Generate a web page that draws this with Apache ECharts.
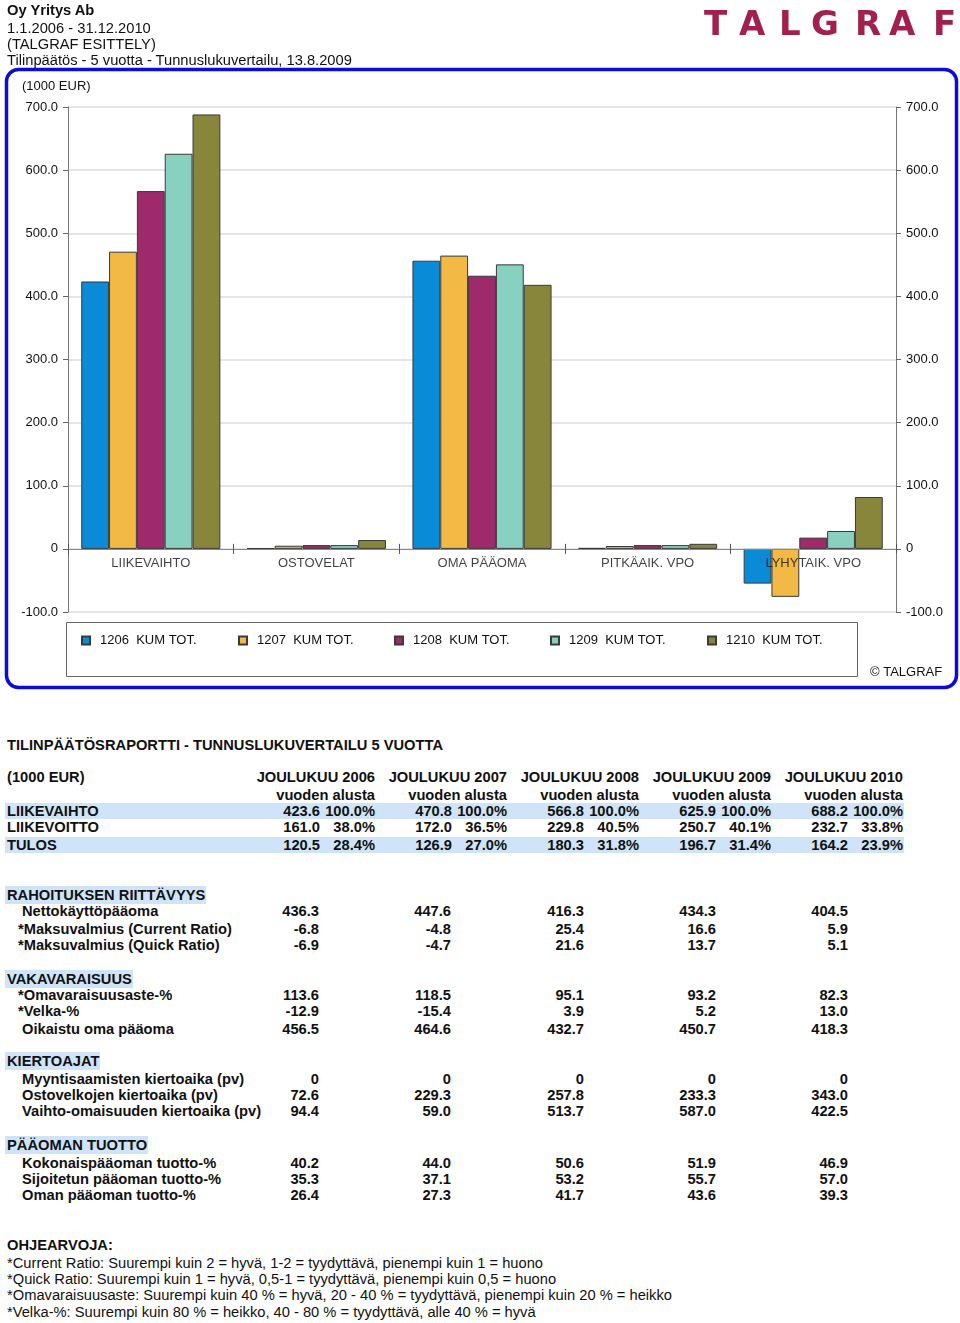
<!DOCTYPE html>
<html>
<head>
<meta charset="utf-8">
<script src="https://cdn.jsdelivr.net/npm/echarts@6/dist/echarts.min.js"></script>
<style>
  html, body { margin:0; padding:0; background:#fff; }
  body { width:960px; height:1323px; position:relative; font-family:'Liberation Sans', Arial, sans-serif; color:#111; }
  #chart { position:absolute; left:0; top:0; width:960px; height:700px; }
  .t { position:absolute; white-space:nowrap; line-height:18px; font-size:14.7px; }
  .b { font-weight:bold; }
  .hl { background:#cfe4f8; }
  .logo { position:absolute; top:3px; font-weight:bold; font-size:34px; color:#a3204e; font-family:'DejaVu Sans', 'Liberation Sans', Arial, sans-serif; }
</style>
</head>
<body>
<div id="chart"></div>
<div id="report"></div>
<script>
// ---------- DATA ----------
const headerLines = ['Oy Yritys Ab', '1.1.2006 - 31.12.2010', '(TALGRAF ESITTELY)', 'Tilinpäätös - 5 vuotta - Tunnuslukuvertailu, 13.8.2009'];
const categories = ['LIIKEVAIHTO', 'OSTOVELAT', 'OMA PÄÄOMA', 'PITKÄAIK. VPO', 'LYHYTAIK. VPO'];
const seriesNames = ['1206  KUM TOT.', '1207  KUM TOT.', '1208  KUM TOT.', '1209  KUM TOT.', '1210  KUM TOT.'];
const s1206 = [423.6, 1.0, 456.5, 1.5, -55.0];
const s1207 = [470.8, 5.0, 464.6, 4.5, -76.0];
const s1208 = [566.8, 6.0, 432.7, 6.0, 17.8];
const s1209 = [625.9, 6.0, 450.7, 6.0, 28.3];
const s1210 = [688.2, 14.0, 418.3, 8.0, 82.2];
const yTicks = [-100, 0, 100, 200, 300, 400, 500, 600, 700];

const years = ['JOULUKUU 2006', 'JOULUKUU 2007', 'JOULUKUU 2008', 'JOULUKUU 2009', 'JOULUKUU 2010'];
const liikevaihto = [423.6, 470.8, 566.8, 625.9, 688.2];
const liikevaihtoPct = [100.0, 100.0, 100.0, 100.0, 100.0];
const liikevoitto = [161.0, 172.0, 229.8, 250.7, 232.7];
const liikevoittoPct = [38.0, 36.5, 40.5, 40.1, 33.8];
const tulos = [120.5, 126.9, 180.3, 196.7, 164.2];
const tulosPct = [28.4, 27.0, 31.8, 31.4, 23.9];

const nettokayttopaaoma = [436.3, 447.6, 416.3, 434.3, 404.5];
const currentRatio = [-6.8, -4.8, 25.4, 16.6, 5.9];
const quickRatio = [-6.9, -4.7, 21.6, 13.7, 5.1];
const omavaraisuusaste = [113.6, 118.5, 95.1, 93.2, 82.3];
const velkaPct = [-12.9, -15.4, 3.9, 5.2, 13.0];
const oikaistuOmaPaaoma = [456.5, 464.6, 432.7, 450.7, 418.3];
const myyntisaamistenKiertoaika = [0, 0, 0, 0, 0];
const ostovelkojenKiertoaika = [72.6, 229.3, 257.8, 233.3, 343.0];
const vaihtoOmaisuudenKiertoaika = [94.4, 59.0, 513.7, 587.0, 422.5];
const kokonaispaaomanTuotto = [40.2, 44.0, 50.6, 51.9, 46.9];
const sijoitetunPaaomanTuotto = [35.3, 37.1, 53.2, 55.7, 57.0];
const omanPaaomanTuotto = [26.4, 27.3, 41.7, 43.6, 39.3];

const ohjearvot = [
  '*Current Ratio: Suurempi kuin 2 = hyvä, 1-2 = tyydyttävä, pienempi kuin 1 = huono',
  '*Quick Ratio: Suurempi kuin 1 = hyvä, 0,5-1 = tyydyttävä, pienempi kuin 0,5 = huono',
  '*Omavaraisuusaste: Suurempi kuin 40 % = hyvä, 20 - 40 % = tyydyttävä, pienempi kuin 20 % = heikko',
  '*Velka-%: Suurempi kuin 80 % = heikko, 40 - 80 % = tyydyttävä, alle 40 % = hyvä'
];

// ---------- STYLE / LAYOUT ----------
const colors = ['#0a8bd8', '#f2ba44', '#9e2a6c', '#88d1c1', '#87863a'];
const legendLeft = [81, 238, 394, 550, 707];
const seriesData = [s1206, s1207, s1208, s1209, s1210];
const FONT = "'Liberation Sans', Arial, sans-serif";

const chart = echarts.init(document.getElementById('chart'), null, { renderer: 'canvas' });
const yFmt = v => (v === 0 ? '0' : v.toFixed(1));
const yAxisBase = {
  type: 'value', min: yTicks[0], max: yTicks[yTicks.length - 1], interval: yTicks[1] - yTicks[0],
  axisLine: { show: true, lineStyle: { color: '#777', width: 1 } },
  axisTick: { show: true, length: 5, lineStyle: { color: '#666' } },
  axisLabel: { formatter: yFmt, fontSize: 13, color: '#111', margin: 10, fontFamily: FONT }
};
const barSeries = seriesNames.map((n, i) => ({
  name: n, type: 'bar', data: seriesData[i], xAxisIndex: 0, yAxisIndex: 0,
  barGap: '0%', barCategoryGap: '16%',
  itemStyle: { color: colors[i], borderColor: '#3a3a3a', borderWidth: 1 }
}));
// category labels placed at the zero line through the library's scales
const labelSeries = {
  type: 'scatter', name: 'categoryLabels', xAxisIndex: 0, yAxisIndex: 0,
  data: categories.map(c => [c, 0]), symbolSize: 0, silent: true, z: 20,
  label: { show: true, position: 'bottom', distance: 8, formatter: p => p.value[0],
           fontSize: 13, color: '#111', fontFamily: FONT },
  tooltip: { show: false }
};
const option = {
  animation: false,
  textStyle: { fontFamily: FONT },
  grid: { left: 68, right: 64, top: 107, bottom: 88 },
  xAxis: [
    { type: 'category', data: categories, position: 'bottom', z: 5,
      axisLine: { onZero: true, onZeroAxisIndex: 0, lineStyle: { color: '#888', width: 1 } },
      axisTick: { show: true, length: 5, lineStyle: { color: '#555' } },
      axisLabel: { show: false } },
    { type: 'category', data: categories, position: 'top',
      axisLine: { onZero: true, onZeroAxisIndex: 2, lineStyle: { color: '#888', width: 1 } },
      axisTick: { show: true, length: 5, lineStyle: { color: '#555' } },
      axisLabel: { show: false } }
  ],
  yAxis: [
    Object.assign({}, yAxisBase, { position: 'left', splitLine: { show: true, lineStyle: { color: '#dcdcdc', width: 1.5 } } }),
    Object.assign({}, yAxisBase, { position: 'right', splitLine: { show: false } }),
    Object.assign({}, yAxisBase, { show: false, splitLine: { show: false } })
  ],
  legend: seriesNames.map((n, i) => ({
    data: [n], left: legendLeft[i], top: 634, padding: 0, icon: 'rect',
    itemWidth: 8, itemHeight: 8,
    textStyle: { fontSize: 13, color: '#111', fontFamily: FONT, padding: [0, 0, 0, 5] }
  })),
  series: barSeries.concat([labelSeries]),
  graphic: [
    { type: 'rect', shape: { x: 6.5, y: 69.5, width: 950, height: 618, r: 12 }, style: { fill: 'none', stroke: '#0c0cd6', lineWidth: 3.5 }, z: 100 },
    { type: 'rect', shape: { x: 66.5, y: 622.5, width: 791, height: 54 }, style: { fill: 'none', stroke: '#666', lineWidth: 1 } },
    { type: 'text', x: 22, y: 86, style: { text: '(1000 EUR)', fontSize: 13, fill: '#111', font: '13px ' + FONT, textVerticalAlign: 'middle' } },
    { type: 'text', x: 870, y: 672, style: { text: '© TALGRAF', fontSize: 13, fill: '#111', font: '13px ' + FONT, textVerticalAlign: 'middle' } }
  ]
};
chart.setOption(option);

// ---------- REPORT TEXT ----------
const rep = document.getElementById('report');
function txt(s, x, y, cls, align) {
  const d = document.createElement('div');
  d.className = 't ' + (cls || '');
  d.textContent = s;
  d.style.top = (y - 9) + 'px';
  if (align === 'right') { d.style.right = (960 - x) + 'px'; d.style.textAlign = 'right'; }
  else d.style.left = x + 'px';
  rep.appendChild(d);
  return d;
}
function band(x, y, w, h) {
  const d = document.createElement('div');
  d.style.cssText = 'position:absolute;background:#cfe4f8;left:' + x + 'px;top:' + y + 'px;width:' + w + 'px;height:' + h + 'px;';
  rep.appendChild(d);
}
const fmt1 = v => (v === 0 ? '0' : v.toFixed(1));

// header
[10, 28, 44, 60].forEach((y, i) => txt(headerLines[i], 7, y, i === 0 ? 'b' : ''));
// logo
const logoLetters = 'TALGRAF'.split('');
const logoX = [704, 739, 779, 811, 855, 889, 933];
logoLetters.forEach((c, i) => {
  const d = document.createElement('div');
  d.className = 'logo'; d.textContent = c; d.style.left = logoX[i] + 'px';
  rep.appendChild(d);
});

// top table
txt('TILINPÄÄTÖSRAPORTTI - TUNNUSLUKUVERTAILU 5 VUOTTA', 7, 745, 'b');
txt('(1000 EUR)', 7, 777, 'b');
const pctRight = [375, 507, 639, 771, 903];
const valRight = [320, 452, 584, 716, 848];
years.forEach((yr, i) => { txt(yr, pctRight[i], 777, 'b', 'right'); txt('vuoden alusta', pctRight[i], 795, 'b', 'right'); });
const topRows = [
  ['LIIKEVAIHTO', liikevaihto, liikevaihtoPct, 811, true],
  ['LIIKEVOITTO', liikevoitto, liikevoittoPct, 827, false],
  ['TULOS', tulos, tulosPct, 845, true]
];
topRows.forEach(r => {
  if (r[4]) band(5, r[3] - 8, 899, 16);
  txt(r[0], 7, r[3], 'b');
  r[1].forEach((v, i) => { txt(fmt1(v), valRight[i], r[3], 'b', 'right'); txt(r[2][i].toFixed(1) + '%', pctRight[i], r[3], 'b', 'right'); });
});

// lower sections
const sections = [
  ['RAHOITUKSEN RIITTÄVYYS', 895, [
    ['Nettokäyttöpääoma', nettokayttopaaoma, 911],
    ['*Maksuvalmius (Current Ratio)', currentRatio, 929],
    ['*Maksuvalmius (Quick Ratio)', quickRatio, 945]]],
  ['VAKAVARAISUUS', 979, [
    ['*Omavaraisuusaste-%', omavaraisuusaste, 995],
    ['*Velka-%', velkaPct, 1011],
    ['Oikaistu oma pääoma', oikaistuOmaPaaoma, 1029]]],
  ['KIERTOAJAT', 1061, [
    ['Myyntisaamisten kiertoaika (pv)', myyntisaamistenKiertoaika, 1079],
    ['Ostovelkojen kiertoaika (pv)', ostovelkojenKiertoaika, 1095],
    ['Vaihto-omaisuuden kiertoaika (pv)', vaihtoOmaisuudenKiertoaika, 1111]]],
  ['PÄÄOMAN TUOTTO', 1145, [
    ['Kokonaispääoman tuotto-%', kokonaispaaomanTuotto, 1163],
    ['Sijoitetun pääoman tuotto-%', sijoitetunPaaomanTuotto, 1179],
    ['Oman pääoman tuotto-%', omanPaaomanTuotto, 1195]]]
];
const lowRight = [319, 451, 584, 716, 848];
sections.forEach(sec => {
  const h = txt(sec[0], 5, sec[1], 'b hl');
  h.style.paddingLeft = '2px'; h.style.paddingRight = '1px';
  sec[2].forEach(row => {
    txt(row[0], row[0].charAt(0) === '*' ? 18 : 22, row[2], 'b');
    row[1].forEach((v, i) => txt(fmt1(v), lowRight[i], row[2], 'b', 'right'));
  });
});

txt('OHJEARVOJA:', 7, 1245, 'b');
[1263, 1279, 1295, 1312].forEach((y, i) => txt(ohjearvot[i], 7, y, ''));
</script>
</body>
</html>
